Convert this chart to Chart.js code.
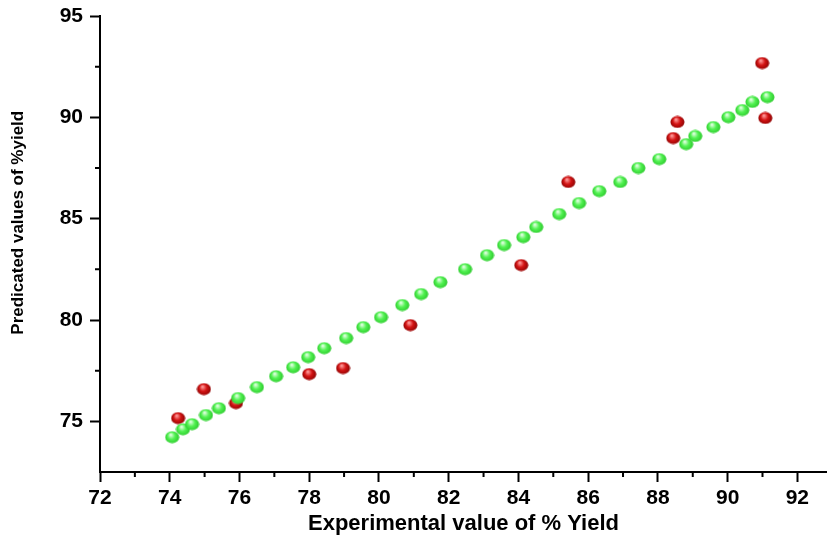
<!DOCTYPE html>
<html>
<head>
<meta charset="utf-8">
<script src="https://cdn.jsdelivr.net/npm/chart.js@4.4.0/dist/chart.umd.min.js"></script>
<style>
  html, body { margin: 0; padding: 0; background: #fff; }
  #wrap { width: 827px; height: 540px; }
</style>
</head>
<body>
<div id="wrap"><canvas id="grafico" width="827" height="540"></canvas></div>
<script>
// green series (on the fitted line)
const linhaX = [74.07, 74.38, 74.64, 75.04, 75.41, 75.96, 76.50, 77.05, 77.54, 77.97, 78.43, 79.06,
  79.55, 80.06, 80.67, 81.21, 81.76, 82.47, 83.10, 83.59, 84.14, 84.51, 85.17, 85.74, 86.32, 86.92,
  87.44, 88.04, 88.81, 89.07, 89.59, 90.02, 90.42, 90.71, 91.14];
const linhaY = [74.22, 74.61, 74.86, 75.31, 75.65, 76.15, 76.69, 77.23, 77.67, 78.17, 78.61, 79.11,
  79.65, 80.14, 80.74, 81.28, 81.87, 82.51, 83.20, 83.70, 84.09, 84.59, 85.23, 85.77, 86.36, 86.81,
  87.50, 87.94, 88.68, 89.08, 89.52, 90.01, 90.36, 90.76, 91.00];

// red series (predicted vs experimental)
const expX = [74.24, 74.98, 75.90, 78.00, 78.97, 80.90, 84.08, 85.43, 88.44, 88.56, 90.99, 91.08];
const predY = [75.16, 76.59, 75.90, 77.33, 77.63, 79.75, 82.71, 86.81, 88.98, 89.77, 92.68, 89.97];

// tick values
const xTicksMajor = [72, 74, 76, 78, 80, 82, 84, 86, 88, 90, 92];
const xTicksMinor = [73, 75, 77, 79, 81, 83, 85, 87, 89, 91];
const yTicksMajor = [75, 80, 85, 90, 95];
const yTicksMinor = [77.5, 82.5, 87.5, 92.5];

const fonte = 'Liberation Sans, Arial, sans-serif';

function bolinha(claro, meio, escuro) {
  const c = document.createElement('canvas');
  c.width = 15; c.height = 13;
  const g = c.getContext('2d');
  const grad = g.createRadialGradient(6, 4, 0.5, 7.5, 6.5, 7.5);
  grad.addColorStop(0, claro);
  grad.addColorStop(0.45, meio);
  grad.addColorStop(1, escuro);
  g.fillStyle = grad;
  g.beginPath();
  g.ellipse(7.5, 6.5, 7, 6, 0, 0, Math.PI * 2);
  g.fill();
  return c;
}

const bolaVerde = bolinha('#e0ffe0', '#52f252', '#28c428');
const bolaVermelha = bolinha('#ff9a9a', '#d41414', '#850000');

// short minor ticks, drawn through the scales
const ticksMenores = {
  id: 'ticksMenores',
  afterDraw(chart) {
    const { ctx, scales: { x, y } } = chart;
    ctx.save();
    ctx.strokeStyle = '#000';
    ctx.lineWidth = 2;
    ctx.beginPath();
    xTicksMinor.forEach(v => {
      const px = x.getPixelForValue(v);
      ctx.moveTo(px, x.top);
      ctx.lineTo(px, x.top + 5);
    });
    yTicksMinor.forEach(v => {
      const py = y.getPixelForValue(v);
      ctx.moveTo(y.right, py);
      ctx.lineTo(y.right - 5, py);
    });
    ctx.stroke();
    ctx.restore();
  }
};

const ctx = document.getElementById('grafico').getContext('2d');
new Chart(ctx, {
  type: 'scatter',
  data: {
    datasets: [
      {
        label: 'Linha',
        data: linhaX.map((v, i) => ({ x: v, y: linhaY[i] })),
        pointStyle: bolaVerde,
        pointRadius: 7
      },
      {
        label: 'Predito',
        data: expX.map((v, i) => ({ x: v, y: predY[i] })),
        pointStyle: bolaVermelha,
        pointRadius: 7
      }
    ]
  },
  options: {
    responsive: false,
    animation: false,
    layout: { autoPadding: false, padding: { top: 16, left: 0, right: 0, bottom: 0 } },
    plugins: { legend: { display: false }, tooltip: { enabled: false } },
    scales: {
      x: {
        type: 'linear',
        min: 72,
        max: 92.85,
        afterBuildTicks: s => { s.ticks = xTicksMajor.map(v => ({ value: v })); },
        afterFit: s => { s.height = 68; },
        border: { display: true, color: '#000', width: 2 },
        grid: { drawOnChartArea: false, drawTicks: true, tickLength: 10, tickColor: '#000', tickWidth: 2 },
        ticks: { color: '#000', padding: 4, maxRotation: 0, font: { family: fonte, size: 21, weight: 'bold' } },
        title: {
          display: true,
          text: 'Experimental value of % Yield',
          color: '#000',
          font: { family: fonte, size: 22, weight: 'bold' },
          padding: { top: 0, bottom: 3 }
        }
      },
      y: {
        type: 'linear',
        min: 72.5,
        max: 95,
        afterBuildTicks: s => { s.ticks = yTicksMajor.map(v => ({ value: v })); },
        afterFit: s => { s.width = 100; s.paddingTop = 0; s.paddingBottom = 0; },
        border: { display: true, color: '#000', width: 2 },
        grid: { drawOnChartArea: false, drawTicks: true, tickLength: 10, tickColor: '#000', tickWidth: 2 },
        ticks: { color: '#000', padding: 7, font: { family: fonte, size: 21, weight: 'bold' } },
        title: {
          display: true,
          text: '         Predicated values of %yield',
          color: '#000',
          font: { family: fonte, size: 17, weight: 'bold' },
          padding: { top: 8, bottom: 0 }
        }
      }
    }
  },
  plugins: [ticksMenores]
});
</script>
</body>
</html>
